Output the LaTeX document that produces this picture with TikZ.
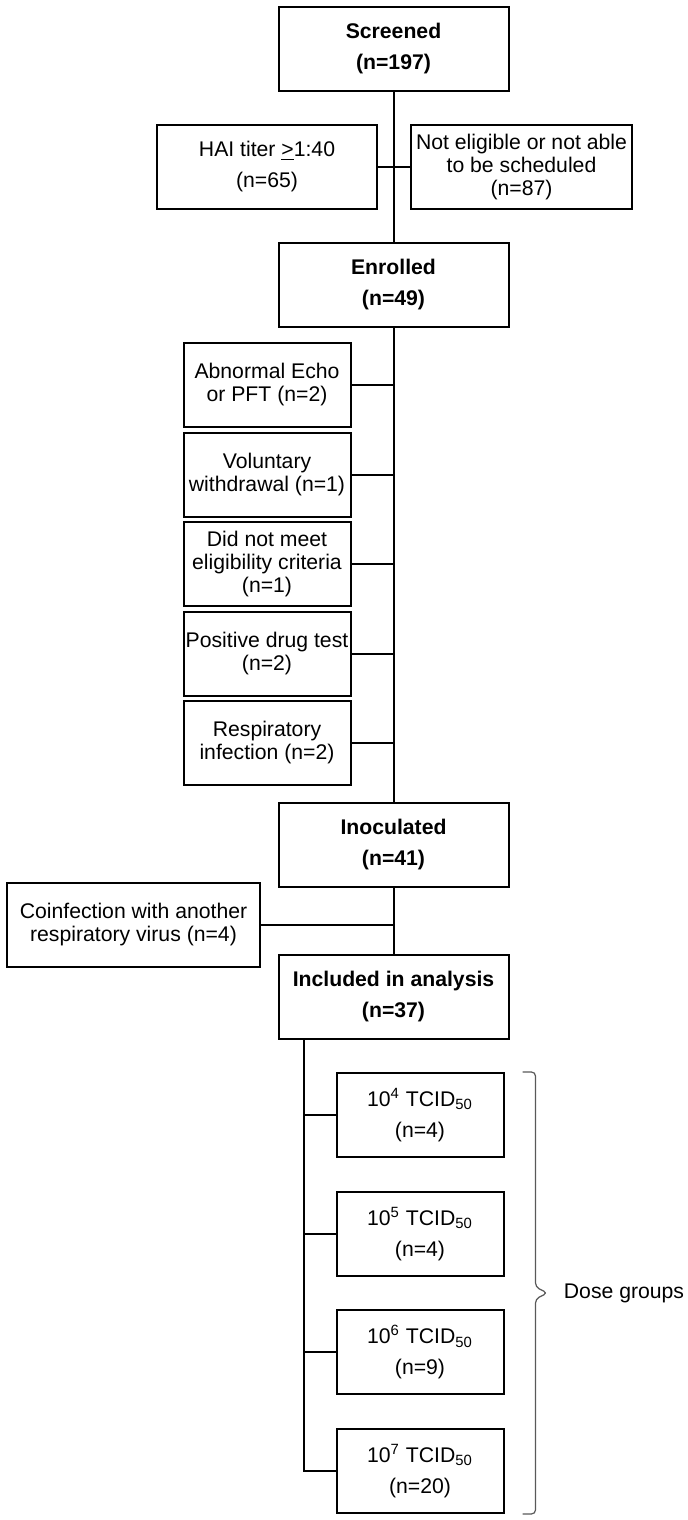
\documentclass[tikz,border=0pt]{standalone}
\usepackage{fontspec}
\setmainfont{Liberation Sans}
\usetikzlibrary{positioning,calc}

\begin{document}
\begin{tikzpicture}[x=0.5pt,y=-0.5pt,node distance=44.75pt,on grid,
    box/.style={draw,line width=1pt,align=center,inner sep=0pt,
      font=\fontsize{10.6}{11.5}\selectfont},
    mainbox/.style={box,minimum width=115pt,minimum height=42pt,
      font=\fontsize{10.6}{15.5}\selectfont\bfseries},
    sidebox/.style={box,minimum width=83.5pt,minimum height=42pt},
    dosebox/.style={sidebox,font=\fontsize{10.6}{15.5}\selectfont},
    link/.style={line width=1pt},
    bracket/.style={gray!70!black,line width=0.6pt,rounded corners=2pt}]
   \useasboundingbox (0,0) rectangle (688,1520);
   % main column
   \node[mainbox] (scr) at (393.5,49) {Screened\\(n=197)};
   \node[sidebox,minimum width=110pt,font=\fontsize{10.6}{15.5}\selectfont] (hai)
      [below left=59pt and 63.25pt of scr] {HAI titer \underline{>}1:40\\(n=65)};
   \node[sidebox,minimum width=110.5pt] (nel) [below right=59pt and 64pt of scr]
      {Not eligible or not able\\to be scheduled\\(n=87)};
   \node[mainbox] (enr) [below=118pt of scr] {Enrolled\\(n=49)};
   \node[sidebox] (abn) [below left=50pt and 63.25pt of enr] {Abnormal Echo\\or PFT (n=2)};
   \node[sidebox] (vol) [below=of abn] {Voluntary\\withdrawal (n=1)};
   \node[sidebox] (dnm) [below=of vol] {Did not meet\\eligibility criteria\\(n=1)};
   \node[sidebox] (pos) [below=of dnm] {Positive drug test\\(n=2)};
   \node[sidebox] (resp) [below=of pos] {Respiratory\\infection (n=2)};
   \node[mainbox] (ino) [below=280pt of enr] {Inoculated\\(n=41)};
   \node[sidebox,minimum width=126.5pt] (coi) [below left=39.75pt and 130pt of ino]
      {Coinfection with another\\respiratory virus (n=4)};
   \node[mainbox] (inc) [below=75.75pt of ino] {Included in analysis\\(n=37)};
   % dose groups
   \node[dosebox] (d4) [below right=59.25pt and 13.25pt of inc] {10\textsuperscript{4} TCID\textsubscript{50}\\(n=4)};
   \node[dosebox] (d5) [below=59.33pt of d4] {10\textsuperscript{5} TCID\textsubscript{50}\\(n=4)};
   \node[dosebox] (d6) [below=59.33pt of d5] {10\textsuperscript{6} TCID\textsubscript{50}\\(n=9)};
   \node[dosebox] (d7) [below=59.33pt of d6] {10\textsuperscript{7} TCID\textsubscript{50}\\(n=20)};

   \draw[link] (scr) -- (enr) -- (ino) -- (inc);
   \draw[link] (hai) -- (nel);
   \foreach \s in {abn,vol,dnm,pos,resp}
      \draw[link] (\s) -- (\s -| enr);
   \draw[link] (coi) -- (coi -| ino);
   \coordinate (spine) at ([xshift=-45pt]inc.south);
   \draw[link] (spine) |- (d7);
   \foreach \d in {d4,d5,d6}
      \draw[link] (\d) -- (\d -| spine);

   % bracket
   \coordinate (brtop) at ([xshift=15.5pt]d4.north east);
   \coordinate (brbot) at ([xshift=15.5pt]d7.south east);
   \coordinate (brmid) at ($(brtop)!.5!(brbot)$);
   \draw[bracket] ([xshift=-6.5pt]brtop) -- (brtop) -- ([yshift=3pt]brmid)
      -- ([xshift=6pt]brmid) -- ([yshift=-3pt]brmid) -- (brbot) -- ([xshift=-6.5pt]brbot);
   \node[anchor=west,inner sep=0pt,font=\fontsize{10.6}{11.5}\selectfont] (dose)
      at ([xshift=14pt]brmid) {Dose groups};
\end{tikzpicture}
\end{document}
